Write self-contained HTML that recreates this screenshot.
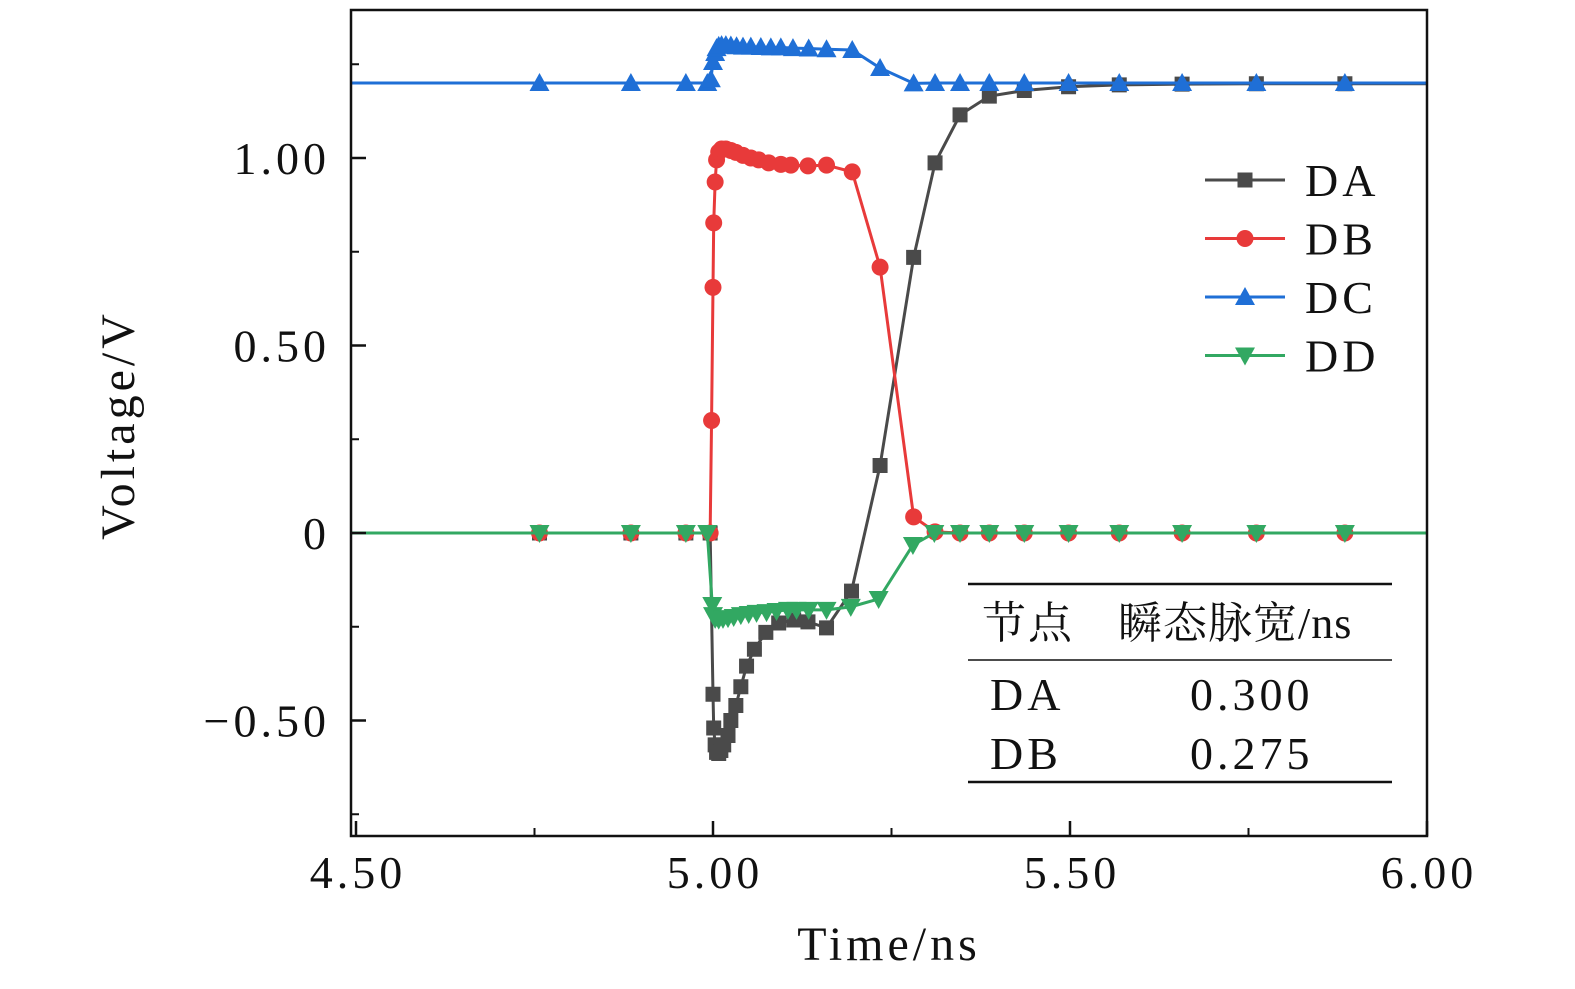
<!DOCTYPE html>
<html><head><meta charset="utf-8"><style>
body{margin:0;background:#fff;width:1575px;height:984px;overflow:hidden}
svg text{font-family:"Liberation Serif","Noto Serif CJK SC",serif;fill:#111;letter-spacing:4px}
</style></head><body>
<svg id="chart" width="1575" height="984" xmlns="http://www.w3.org/2000/svg">
<g id="series"></g>
<g id="axes"></g>
<g id="legend"></g>
<g>
<line x1="968" y1="584" x2="1392" y2="584" stroke="#111" stroke-width="2.5"/>
<line x1="968" y1="660" x2="1392" y2="660" stroke="#111" stroke-width="1.5"/>
<line x1="968" y1="782" x2="1392" y2="782" stroke="#111" stroke-width="2.5"/>
<text x="982" y="638" font-size="44" style="letter-spacing:2px">节点</text>
<text x="1118" y="638" font-size="44" style="letter-spacing:1px">瞬态脉宽/ns</text>
<text x="990" y="710" font-size="46">DA</text>
<text x="1190" y="710" font-size="46">0.300</text>
<text x="990" y="769" font-size="46">DB</text>
<text x="1190" y="769" font-size="46">0.275</text>
</g>
</svg>
<script>
const xTicks=[4.5,5.0,5.5,6.0];
const xTickLabels=["4.50","5.00","5.50","6.00"];
const yTicks=[-0.5,0,0.5,1.0];
const yTickLabels=["\u22120.50","0","0.50","1.00"];
const tA=[4.757,4.885,4.962,4.996,5.0,5.001,5.003,5.005,5.008,5.011,5.015,5.021,5.025,5.032,5.039,5.047,5.058,5.074,5.092,5.113,5.133,5.159,5.194,5.234,5.281,5.311,5.346,5.387,5.436,5.498,5.569,5.657,5.761,5.885,6.0];
const vA=[0,0,0,0,-0.43,-0.52,-0.565,-0.585,-0.588,-0.58,-0.565,-0.54,-0.50,-0.46,-0.41,-0.355,-0.31,-0.265,-0.24,-0.232,-0.237,-0.253,-0.155,0.18,0.735,0.987,1.115,1.165,1.18,1.19,1.195,1.197,1.198,1.198,1.198];
const tB=[4.757,4.885,4.962,4.996,4.998,5.0,5.001,5.003,5.005,5.008,5.012,5.018,5.025,5.032,5.042,5.053,5.064,5.078,5.095,5.109,5.133,5.159,5.195,5.234,5.281,5.311,5.346,5.387,5.436,5.498,5.569,5.657,5.761,5.885,6.0];
const vB=[0,0,0,0,0.30,0.655,0.827,0.936,0.995,1.016,1.024,1.024,1.02,1.015,1.007,1.0,0.995,0.987,0.983,0.981,0.979,0.981,0.963,0.709,0.043,0.003,0,0,0,0,0,0,0,0,0];
const tC=[4.757,4.885,4.962,4.992,4.997,5.0,5.003,5.005,5.008,5.012,5.018,5.025,5.033,5.042,5.053,5.067,5.081,5.095,5.112,5.134,5.159,5.195,5.234,5.281,5.311,5.346,5.387,5.436,5.498,5.569,5.657,5.761,5.885,6.0];
const vC=[1.2,1.2,1.2,1.2,1.21,1.256,1.28,1.293,1.299,1.301,1.301,1.3,1.298,1.297,1.297,1.296,1.295,1.295,1.293,1.292,1.29,1.288,1.24,1.199,1.2,1.2,1.2,1.2,1.2,1.2,1.2,1.2,1.2,1.2];
const tD=[4.757,4.885,4.962,4.992,4.999,5.0,5.003,5.008,5.014,5.021,5.029,5.039,5.05,5.061,5.075,5.089,5.105,5.117,5.134,5.159,5.193,5.232,5.28,5.31,5.346,5.387,5.436,5.498,5.569,5.657,5.761,5.885,6.0];
const vD=[0,0,0,0,-0.192,-0.219,-0.229,-0.231,-0.229,-0.227,-0.224,-0.219,-0.216,-0.213,-0.211,-0.208,-0.205,-0.205,-0.205,-0.205,-0.197,-0.176,-0.032,0,0,0,0,0,0,0,0,0,0];
const X0=351,X1=1427,Y0=10,Y1=836;
function sx(t){return 356+(t-4.5)*714;}
function sy(v){return 533-v*375;}
const NS="http://www.w3.org/2000/svg";
function mk(tag,attrs,parent){const e=document.createElementNS(NS,tag);for(const k in attrs)e.setAttribute(k,attrs[k]);parent.appendChild(e);return e;}
const sg=document.getElementById('series');
const defs=[["DA",tA,vA,"#4a4a4a","square"],["DB",tB,vB,"#e83a3a","circle"],["DC",tC,vC,"#1f6fd6","up"],["DD",tD,vD,"#32a862","down"]];
function marker(shape,x,y,color,parent){
 let m;
 if(shape==="square")m=mk('rect',{x:x-7.5,y:y-7.5,width:15,height:15,fill:color},parent);
 else if(shape==="circle")m=mk('circle',{cx:x,cy:y,r:8.5,fill:color},parent);
 else if(shape==="up")m=mk('polygon',{points:`${x},${y-10} ${x-10},${y+8} ${x+10},${y+8}`,fill:color},parent);
 else m=mk('polygon',{points:`${x},${y+10} ${x-10},${y-8} ${x+10},${y-8}`,fill:color},parent);
 return m;
}
defs.forEach(([name,ts,vs,color,shape])=>{
 const g=mk('g',{},sg);
 
 
 const pts=ts.map((t,i)=>[Math.max(X0,sx(t)),sy(vs[i])]);
 const line=mk('polyline',{points:[[X0,sy(vs[0])]].concat(pts).map(p=>p.join(',')).join(' '),fill:'none',stroke:color,'stroke-width':3},g);
 
 
 pts.forEach((p,i)=>{if(i===pts.length-1)return;const m=marker(shape,p[0],p[1],color,g);
  
  });
});
const ax=document.getElementById('axes');
mk('rect',{x:X0,y:Y0,width:X1-X0,height:Y1-Y0,fill:'none',stroke:'#111','stroke-width':2.5},ax);
xTicks.forEach((t,i)=>{const x=sx(t);
 mk('line',{x1:x,y1:Y1,x2:x,y2:Y1-15,stroke:'#111','stroke-width':2.5},ax);
 if(i<xTicks.length-1)mk('line',{x1:sx(t+0.25),y1:Y1,x2:sx(t+0.25),y2:Y1-8,stroke:'#111','stroke-width':2},ax);
 const tx=mk('text',{x:x+2,y:888,'font-size':46,'text-anchor':'middle'},ax);tx.textContent=xTickLabels[i];
 
 
});
yTicks.forEach((v,i)=>{const y=sy(v);
 mk('line',{x1:X0,y1:y,x2:X0+15,y2:y,stroke:'#111','stroke-width':2.5},ax);
 const tx=mk('text',{x:330,y:y+16,'font-size':46,'text-anchor':'end'},ax);tx.textContent=yTickLabels[i];
 
 
});
[-0.75,-0.25,0.25,0.75,1.25].forEach(v=>mk('line',{x1:X0,y1:sy(v),x2:X0+8,y2:sy(v),stroke:'#111','stroke-width':2},ax));
const xt=mk('text',{x:889,y:960,'font-size':48,'text-anchor':'middle'},ax);xt.textContent='Time/ns';


const yt=mk('text',{x:0,y:0,'font-size':48,'text-anchor':'middle',transform:'translate(134,425) rotate(-90)'},ax);yt.textContent='Voltage/V';


const lg=document.getElementById('legend');
defs.forEach(([name,ts,vs,color,shape],i)=>{const y=180+i*58.5;
 const g=mk('g',{},lg);
 
 
 mk('line',{x1:1205,y1:y,x2:1285,y2:y,stroke:color,'stroke-width':3},g);
 marker(shape,1245,y,color,g);
 const tx=mk('text',{x:1305,y:y+16,'font-size':46},g);tx.textContent=name;
});
</script>
</body></html>
